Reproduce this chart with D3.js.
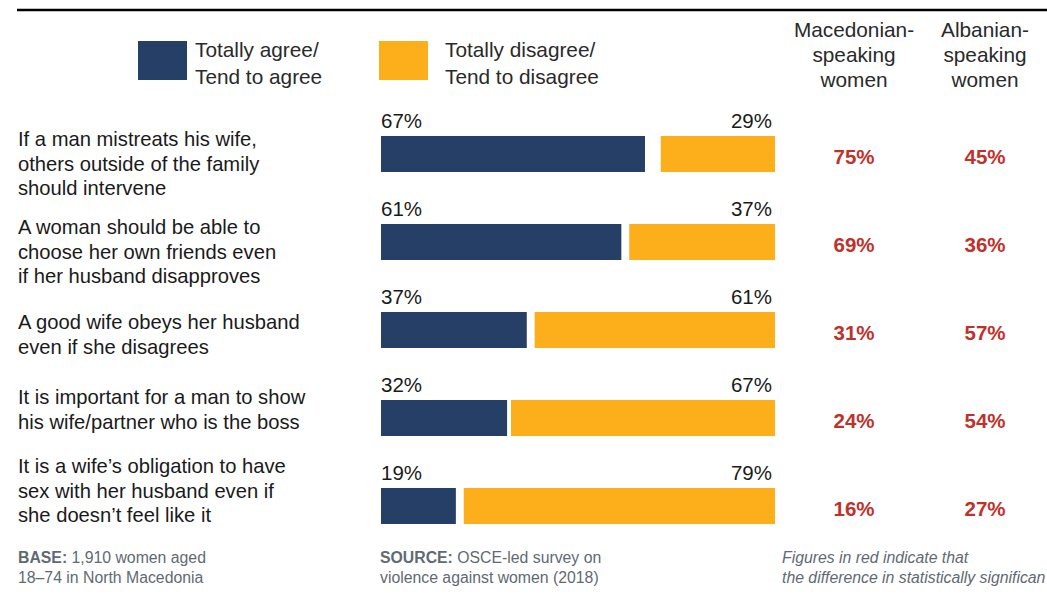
<!DOCTYPE html>
<html>
<head>
<meta charset="utf-8">
<script src="https://cdn.jsdelivr.net/npm/d3@7"></script>
<style>
  html, body { margin: 0; padding: 0; background: #fff; }
  svg { display: block; font-family: "Liberation Sans", Arial, sans-serif; }
</style>
</head>
<body>
<div id="chart"></div>
<script>
// ---- data ----
const statements = [
  ["If a man mistreats his wife,", "others outside of the family", "should intervene"],
  ["A woman should be able to", "choose her own friends even", "if her husband disapproves"],
  ["A good wife obeys her husband", "even if she disagrees"],
  ["It is important for a man to show", "his wife/partner who is the boss"],
  ["It is a wife\u2019s obligation to have", "sex with her husband even if", "she doesn\u2019t feel like it"]
];
const agree = [67, 61, 37, 32, 19];
const disagree = [29, 37, 61, 67, 79];
const macedonian = [75, 69, 31, 24, 16];
const albanian = [45, 36, 57, 54, 27];
const seriesNames = [["Totally agree/", "Tend to agree"], ["Totally disagree/", "Tend to disagree"]];
const groupHeaders = [["Macedonian-", "speaking", "women"], ["Albanian-", "speaking", "women"]];

// ---- layout ----
const W = 1047, H = 603;
const navy = "#263f66", orange = "#fdaf1b", red = "#c0312b";
const textDark = "#1a1a1a", footGrey = "#5f6a72";
const labelShift = [10, 10, 17, 4, -15];

const svg = d3.select("#chart").append("svg").attr("width", W).attr("height", H);

// top rule
svg.append("line").attr("x1", 17).attr("x2", W).attr("y1", 10).attr("y2", 10)
  .attr("stroke", "#000").attr("stroke-width", 2.5);

const idx = d3.range(agree.length);
const y = d3.scaleBand().domain(idx).range([136, 524]).paddingInner(52 / 88).paddingOuter(0);
const x = d3.scaleLinear().domain([0, 100]).range([0, 394]);
const barLeft = 381, barRight = 775;

// legend
const legendX = [138, 379];
const legendTextX = [195, 445];
[navy, orange].forEach((c, i) => {
  svg.append("rect").attr("x", legendX[i]).attr("y", 41).attr("width", 49).attr("height", 39).attr("fill", c);
  const t = svg.append("text").attr("x", legendTextX[i]).attr("y", 57)
    .attr("font-size", 20.8).attr("fill", "#2a2a2a");
  seriesNames[i].forEach((s, j) => t.append("tspan").attr("x", legendTextX[i]).attr("dy", j ? 27 : 0).text(s));
});

// group headers
const colX = [854, 985];
groupHeaders.forEach((h, i) => {
  const t = svg.append("text").attr("x", colX[i]).attr("y", 37).attr("text-anchor", "middle")
    .attr("font-size", 20.8).attr("fill", "#2a2a2a");
  h.forEach((s, j) => t.append("tspan").attr("x", colX[i]).attr("dy", j ? 25 : 0).text(s));
});

// statements
const rows = svg.append("g").selectAll("g").data(idx).join("g");
rows.append("text")
  .attr("x", 18)
  .attr("y", i => y(i) + labelShift[i])
  .attr("font-size", 20.2).attr("fill", textDark)
  .each(function (i) {
    const t = d3.select(this);
    statements[i].forEach((s, j) => t.append("tspan").attr("x", 18).attr("dy", j ? 24.5 : 0).text(s));
  });

// bars
rows.append("rect").attr("x", barLeft).attr("y", i => y(i))
  .attr("width", i => x(agree[i])).attr("height", y.bandwidth()).attr("fill", navy);
rows.append("rect").attr("x", i => barRight - x(disagree[i])).attr("y", i => y(i))
  .attr("width", i => x(disagree[i])).attr("height", y.bandwidth()).attr("fill", orange);

// value labels
rows.append("text").attr("x", barLeft).attr("y", i => y(i) - 8)
  .attr("font-size", 20.5).attr("fill", textDark).text(i => agree[i] + "%");
rows.append("text").attr("x", barRight - 3).attr("y", i => y(i) - 8).attr("text-anchor", "end")
  .attr("font-size", 20.5).attr("fill", textDark).text(i => disagree[i] + "%");

// red group values
[macedonian, albanian].forEach((arr, k) => {
  rows.append("text").attr("x", colX[k]).attr("y", i => y(i) + y.bandwidth() / 2 + 10)
    .attr("text-anchor", "middle").attr("font-size", 20.5).attr("font-weight", "bold")
    .attr("fill", red).text(i => arr[i] + "%");
});

// footer
function foot(xp, lines, italic) {
  const t = svg.append("text").attr("x", xp).attr("y", 563).attr("font-size", 15.8)
    .attr("fill", footGrey).attr("font-style", italic ? "italic" : null);
  lines.forEach((l, j) => {
    const ts = t.append("tspan").attr("x", xp).attr("dy", j ? 20 : 0);
    l.forEach(part => ts.append("tspan").attr("font-weight", part.b ? "bold" : null).text(part.t));
  });
}
foot(18, [[{t: "BASE:", b: true}, {t: " 1,910 women aged"}], [{t: "18\u201374 in North Macedonia"}]]);
foot(380, [[{t: "SOURCE:", b: true}, {t: " OSCE-led survey on"}], [{t: "violence against women (2018)"}]]);
foot(782, [[{t: "Figures in red indicate that"}], [{t: "the difference in statistically significan"}]], true);
</script>
</body>
</html>
